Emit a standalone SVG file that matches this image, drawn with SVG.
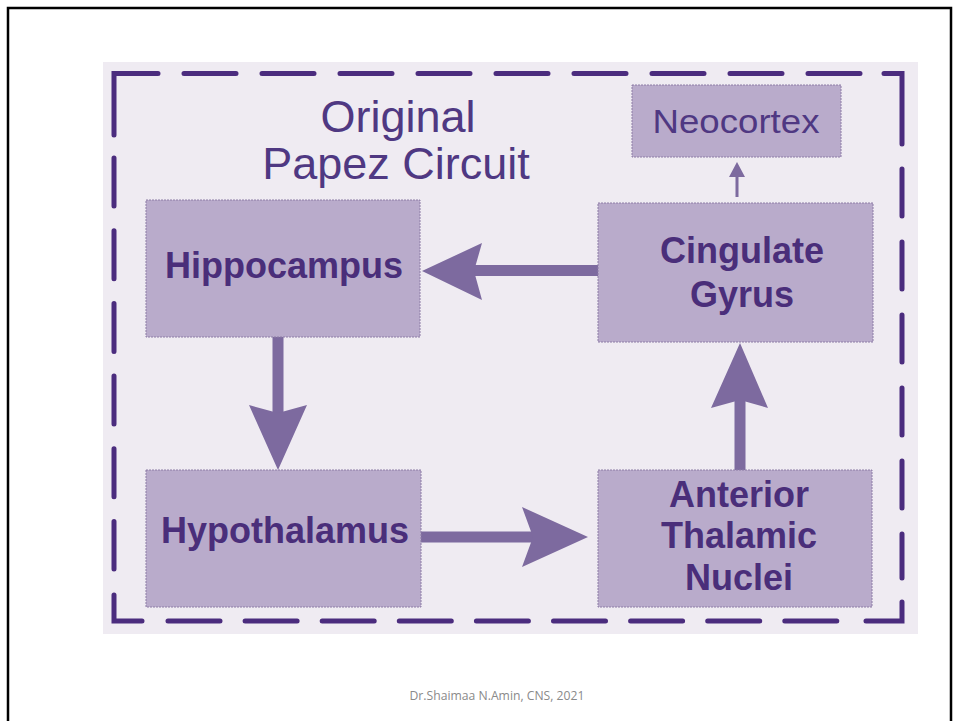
<svg xmlns="http://www.w3.org/2000/svg" width="960" height="721" viewBox="0 0 960 721">
<style>
.box{fill:#B9ABCB;stroke:#8D7DA6;stroke-width:1;stroke-dasharray:2 1}
.lbl{font-family:"Liberation Sans",Arial,sans-serif;font-weight:bold;font-size:36px;fill:#4A2E7A;text-anchor:middle}
.reg{font-family:"Liberation Sans",Arial,sans-serif;fill:#4F3882;text-anchor:middle}
.dash{stroke:#4B2C7E;stroke-width:5;fill:none;stroke-linecap:round}
.arr{fill:#7D6A9F}
</style>
<rect x="0" y="0" width="960" height="721" fill="#FFFFFF"/>
<rect x="8" y="8" width="943" height="740" fill="none" stroke="#000" stroke-width="2.5"/>
<rect x="103" y="62" width="815" height="572" fill="#EFEBF2"/>
<g id="frame">
<path class="dash" d="M114,135 V73.5 H158"/>
<path class="dash" d="M184,73.5 H860" stroke-dasharray="52 26"/>
<path class="dash" d="M884,73.5 H902 V144"/>
<path class="dash" d="M114,158 V569" stroke-dasharray="48 24.7"/>
<path class="dash" d="M114,595 V621 H142"/>
<path class="dash" d="M168,621 H839" stroke-dasharray="52 25.1"/>
<path class="dash" d="M866,621 H902 V602"/>
<path class="dash" d="M902,169 V578" stroke-dasharray="47 26"/>
</g>
<g id="title">
<text class="reg" x="398" y="132" font-size="45">Original</text>
<text class="reg" x="396" y="179" font-size="45">Papez Circuit</text>
</g>
<g id="connectors">
<rect class="arr" x="470" y="265" width="128" height="11"/>
<polygon class="arr" points="422,271 482,243 474,271 482,300"/>
<rect class="arr" x="272.5" y="337" width="11" height="76"/>
<polygon class="arr" points="278,470 249,405 278,413 307,405"/>
<rect class="arr" x="421" y="531.5" width="112" height="11"/>
<polygon class="arr" points="588,537 522,507 533,537 522,567"/>
<rect class="arr" x="734.5" y="400" width="11" height="70"/>
<polygon class="arr" points="740,343 768,408 740,400 711,408"/>
<rect class="arr" x="735.5" y="174" width="3" height="23"/>
<polygon class="arr" points="737,162 745,177 729,177"/>
</g>
<g id="neocortex">
<rect class="box" x="632" y="85" width="209" height="72" stroke="none"/>
<text class="reg" x="736" y="133" font-size="34" textLength="167" lengthAdjust="spacingAndGlyphs">Neocortex</text>
</g>
<g id="hippocampus">
<rect class="box" x="146" y="200" width="274" height="137"/>
<text class="lbl" x="284" y="278">Hippocampus</text>
</g>
<g id="cingulate">
<rect class="box" x="598" y="203" width="275" height="139"/>
<text class="lbl" x="742" y="263">Cingulate</text>
<text class="lbl" x="742" y="307">Gyrus</text>
</g>
<g id="hypothalamus">
<rect class="box" x="146" y="470" width="275" height="137"/>
<text class="lbl" x="285" y="543">Hypothalamus</text>
</g>
<g id="anterior">
<rect class="box" x="598" y="470" width="274" height="137"/>
<text class="lbl" x="739" y="507">Anterior</text>
<text class="lbl" x="739" y="548">Thalamic</text>
<text class="lbl" x="739" y="590">Nuclei</text>
</g>
<text x="497" y="700" font-family="'Open Sans','Liberation Sans',sans-serif" font-size="12.5" fill="#8A8A8A" text-anchor="middle" textLength="175" lengthAdjust="spacingAndGlyphs">Dr.Shaimaa N.Amin, CNS, 2021</text>
</svg>
